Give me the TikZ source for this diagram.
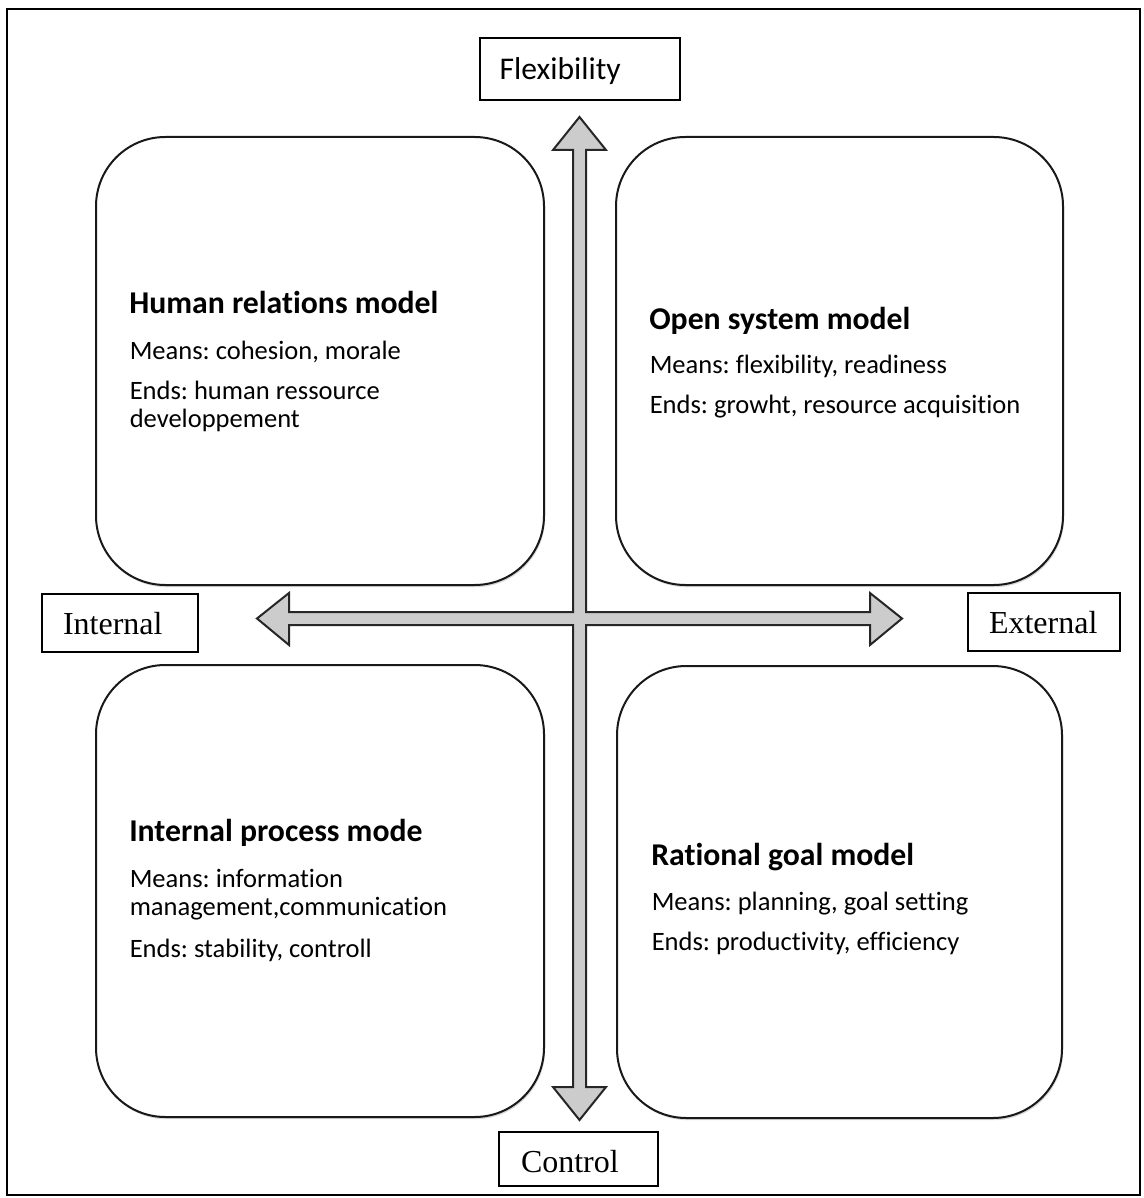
\documentclass[tikz,border=0pt]{standalone}
\usepackage{fontspec}
\setmainfont{Liberation Serif}
\newfontfamily\calfont[Ligatures={NoCommon}]{Carlito}
\usetikzlibrary{shadows}
\frenchspacing
\begin{document}
\frenchspacing
\begin{tikzpicture}[x=0.75pt,y=-0.75pt,
  quad/.style={draw=black!90, line width=1.5pt, rounded corners=52pt, fill=white,
    drop shadow={shadow xshift=0.8pt, shadow yshift=-1.6pt, opacity=0.25, fill=black!60}},
  lab/.style={draw=black, line width=1.5pt, fill=white, inner ysep=0pt, align=left, anchor=base west},
  ttl/.style={anchor=base west, inner sep=0pt, font=\calfont\bfseries\fontsize{23.8pt}{27pt}\selectfont},
  txt/.style={anchor=base west, inner sep=0pt, font=\calfont\fontsize{19.9pt}{23pt}\selectfont},
  axis/.style={draw=black!85, fill=gray!40, line width=1.5pt, line join=miter}
]
\useasboundingbox (0,0) rectangle (1144,1198);
\fill[white] (0,0) rectangle (1144,1198);
\draw[line width=2pt] (7,9) rectangle (1140,1195);

% quadrant boxes
\node[quad, minimum width=336pt, minimum height=336pt] (tl) at (320,361) {};
\node[quad, minimum width=335.25pt, minimum height=336pt] (tr) at (839.5,361) {};
\node[quad, minimum width=336pt, minimum height=339pt] (bl) at (320,891) {};
\node[quad, minimum width=333.75pt, minimum height=339pt] (br) at (839.5,892) {};

% axes (one combined outline)
\coordinate (c) at (579.5,618.5);
\draw[axis] (579.5,117) -- (606,150) -- (586,150) -- (586,612) -- (870,612) -- (870,593)
  -- (902,618.5) -- (870,645) -- (870,625) -- (586,625) -- (586,1087) -- (606,1087)
  -- (579.5,1120) -- (553,1087) -- (573,1087) -- (573,625) -- (289,625) -- (289,645)
  -- (257,618.5) -- (289,593) -- (289,612) -- (573,612) -- (573,150) -- (553,150) -- cycle;

% axis labels
\node[lab, font=\calfont\fontsize{23.7pt}{27pt}\selectfont, inner xsep=16.5pt, text width=117pt,
  text height=31.5pt, text depth=15pt] (flex) at (479,80) {\hspace{-1.8pt}Flexibility};
\node[lab, font=\fontsize{24pt}{27pt}\selectfont, inner xsep=15.75pt, text width=85.5pt,
  text height=30pt, text depth=13.5pt] (intl) at (41,634) {Internal};
\node[lab, font=\fontsize{24pt}{27pt}\selectfont, inner xsep=15.75pt, text width=82.5pt,
  text height=30pt, text depth=13.5pt] (extl) at (967,633) {External};
\node[lab, font=\fontsize{24pt}{27pt}\selectfont, inner xsep=16.5pt, text width=86.25pt,
  text height=30pt, text depth=10.5pt] (ctrl) at (498,1172) {Control};

% top-left
\node[ttl] (tlA) at (129,313) {Human relations model};
\node[txt] (tlB) at (129.5,359) {Means: cohesion, morale};
\node[txt] (tlC) at (129.5,399) {Ends: human ressource};
\node[txt] (tlD) at (129.5,427) {developpement};
% top-right
\node[ttl] (trA) at (649,329) {Open system model};
\node[txt] (trB) at (649.5,373) {Means: flexibility, readiness};
\node[txt] (trC) at (649.5,413) {Ends: growht, resource acquisition};
% bottom-left
\node[ttl] (blA) at (129,841) {Internal process mode};
\node[txt] (blB) at (129.5,887) {Means: information};
\node[txt] (blC) at (129.5,915) {management,communication};
\node[txt] (blD) at (129.5,957) {Ends: stability, controll};
% bottom-right
\node[ttl] (brA) at (651,865) {Rational goal model};
\node[txt] (brB) at (651.5,910) {Means: planning, goal setting};
\node[txt] (brC) at (651.5,950) {Ends: productivity, efficiency};
\end{tikzpicture}
\end{document}
